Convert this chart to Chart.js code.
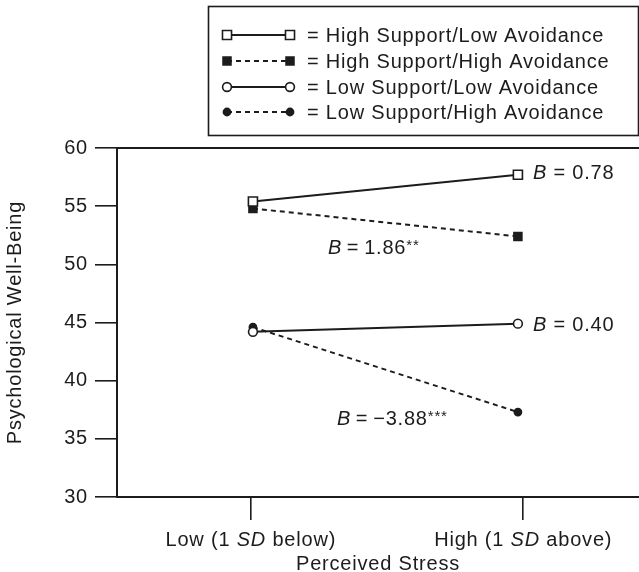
<!DOCTYPE html>
<html>
<head>
<meta charset="utf-8">
<script src="https://cdn.jsdelivr.net/npm/chart.js@4.4.0/dist/chart.umd.min.js"></script>
<style>
  body { margin: 0; background: #fff; overflow: hidden; }
</style>
</head>
<body>
<canvas id="myChart" width="647" height="572"></canvas>
<script>
// data
const stressLevels = [0, 1];
const stressTicks = [-0.008, 1.02];   // tick marks sit a little off the points in the original
const stressLabels = ['Low (1 SD below)', 'High (1 SD above)'];
const seriesNames = [
    'High Support/Low Avoidance',
    'High Support/High Avoidance',
    'Low Support/Low Avoidance',
    'Low Support/High Avoidance'
];
const hsLowAvoid = [55.4, 57.7];
const hsHighAvoid = [54.8, 52.4];
const lsLowAvoid = [44.2, 44.9];
const lsHighAvoid = [44.6, 37.3];
const slopeLabels = ['B = 0.78', 'B\u2009=\u20091.86**', 'B = 0.40', 'B\u2009=\u2009\u22123.88***'];
const yMin = 30, yMax = 60, yStep = 5;

const FONT = "'Liberation Sans', Arial, Helvetica, sans-serif";
const INK = '#1c1c1c';
const SPACING = '0.8px';
const seriesValues = [hsLowAvoid, hsHighAvoid, lsLowAvoid, lsHighAvoid];
const styles = [
    { pointStyle: 'rect', radius: 6.4, fill: '#fff', dash: [] },
    { pointStyle: 'rect', radius: 5.6, fill: INK, dash: [5, 4] },
    { pointStyle: 'circle', radius: 4.4, fill: '#fff', dash: [] },
    { pointStyle: 'circle', radius: 3.6, fill: INK, dash: [5, 4] }
];

// text with italic "B" / "SD" and small raised asterisks
function drawRich(ctx, text, x, y, align) {
    const parts = text.split(/(SD|^B|\*+)/).filter(p => p !== '');
    const fontFor = p => {
        if (p[0] === '*') return '15px ' + FONT;
        return (p === 'SD' || p === 'B' ? 'italic ' : '') + '20px ' + FONT;
    };
    let total = 0;
    parts.forEach(p => { ctx.font = fontFor(p); total += ctx.measureText(p).width; });
    let cx = align === 'center' ? x - total / 2 : x;
    ctx.textAlign = 'left';
    ctx.textBaseline = 'middle';
    ctx.fillStyle = INK;
    parts.forEach(p => {
        ctx.font = fontFor(p);
        ctx.fillText(p, cx, p[0] === '*' ? y - 2 : y);
        cx += ctx.measureText(p).width;
    });
}

function drawMarker(ctx, st, x, y) {
    ctx.save();
    ctx.fillStyle = st.fill;
    ctx.strokeStyle = INK;
    ctx.lineWidth = 1.6;
    ctx.setLineDash([]);
    ctx.beginPath();
    if (st.pointStyle === 'rect') {
        const h = st.radius * Math.SQRT1_2;
        ctx.rect(x - h, y - h, 2 * h, 2 * h);
    } else {
        ctx.arc(x, y, st.radius, 0, Math.PI * 2);
    }
    ctx.fill();
    ctx.stroke();
    ctx.restore();
}

const extras = {
    id: 'extras',
    beforeDraw(chart) {
        chart.ctx.letterSpacing = SPACING;
    },
    afterDraw(chart) {
        const ctx = chart.ctx;
        const xs = chart.scales.x, ys = chart.scales.y;
        const area = chart.chartArea;
        ctx.save();
        ctx.letterSpacing = SPACING;

        // top frame line
        ctx.strokeStyle = INK;
        ctx.lineWidth = 2;
        ctx.beginPath();
        ctx.moveTo(area.left - 1, area.top);
        ctx.lineTo(chart.width, area.top);
        ctx.stroke();

        // x tick labels
        stressTicks.forEach((v, i) => {
            drawRich(ctx, stressLabels[i], xs.getPixelForValue(v), 540, 'center');
        });

        // slope labels
        drawRich(ctx, slopeLabels[0], xs.getPixelForValue(1) + 15, ys.getPixelForValue(hsLowAvoid[1]) - 1, 'left');
        drawRich(ctx, slopeLabels[1], xs.getPixelForValue(0.283), ys.getPixelForValue(51.4), 'left');
        drawRich(ctx, slopeLabels[2], xs.getPixelForValue(1) + 15, ys.getPixelForValue(lsLowAvoid[1]) + 2, 'left');
        drawRich(ctx, slopeLabels[3], xs.getPixelForValue(0.317), ys.getPixelForValue(36.7), 'left');

        // legend box
        ctx.lineWidth = 1.6;
        ctx.strokeStyle = INK;
        ctx.strokeRect(208.5, 6.5, 430, 129);
        const rowY = [35, 61, 87, 112];
        seriesNames.forEach((name, i) => {
            const st = styles[i];
            const y = rowY[i];
            ctx.save();
            ctx.strokeStyle = INK;
            ctx.lineWidth = 1.8;
            ctx.setLineDash(st.dash);
            ctx.beginPath();
            ctx.moveTo(227, y);
            ctx.lineTo(290, y);
            ctx.stroke();
            ctx.restore();
            drawMarker(ctx, st, 227, y);
            drawMarker(ctx, st, 290, y);
            ctx.font = '20px ' + FONT;
            ctx.fillStyle = INK;
            ctx.textAlign = 'left';
            ctx.textBaseline = 'middle';
            ctx.fillText('= ' + name, 307, y + 1);
        });
        ctx.restore();
    }
};

const ctx = document.getElementById('myChart').getContext('2d');
new Chart(ctx, {
    type: 'line',
    data: {
        datasets: seriesNames.map((name, i) => ({
            label: name,
            data: stressLevels.map((x, j) => ({ x: x, y: seriesValues[i][j] })),
            borderColor: INK,
            borderWidth: 2,
            borderDash: styles[i].dash,
            pointStyle: styles[i].pointStyle,
            pointRadius: styles[i].radius,
            pointBackgroundColor: styles[i].fill,
            pointBorderColor: INK,
            pointBorderWidth: 1.6,
            fill: false,
            tension: 0
        }))
    },
    options: {
        responsive: false,
        animation: false,
        devicePixelRatio: 1,
        layout: { padding: { top: 148, left: 0, right: 0, bottom: 0 } },
        plugins: {
            legend: { display: false },
            tooltip: { enabled: false }
        },
        scales: {
            x: {
                type: 'linear',
                min: -0.513,
                max: 1.457,
                afterBuildTicks: s => { s.ticks = stressTicks.map(v => ({ value: v })); },
                afterFit: s => { s.height = 75; },
                grid: { drawOnChartArea: false, drawTicks: true, tickLength: 23, color: INK, lineWidth: 1.6 },
                border: { display: true, color: INK, width: 2 },
                ticks: { display: false, padding: 0 },
                title: {
                    display: true,
                    text: 'Perceived Stress',
                    color: INK,
                    font: { family: FONT, size: 20 },
                    padding: { top: 0, bottom: -4 }
                }
            },
            y: {
                min: yMin,
                max: yMax,
                afterFit: s => { s.width = 117; },
                ticks: { stepSize: yStep, color: INK, padding: 7, font: { family: FONT, size: 20 } },
                grid: { drawOnChartArea: false, drawTicks: true, tickLength: 22, color: INK, lineWidth: 1.6 },
                border: { display: true, color: INK, width: 2 },
                title: {
                    display: true,
                    text: 'Psychological Well-Being',
                    color: INK,
                    font: { family: FONT, size: 20 },
                    padding: { top: 3, bottom: 0 }
                }
            }
        }
    },
    plugins: [extras]
});
</script>
</body>
</html>
